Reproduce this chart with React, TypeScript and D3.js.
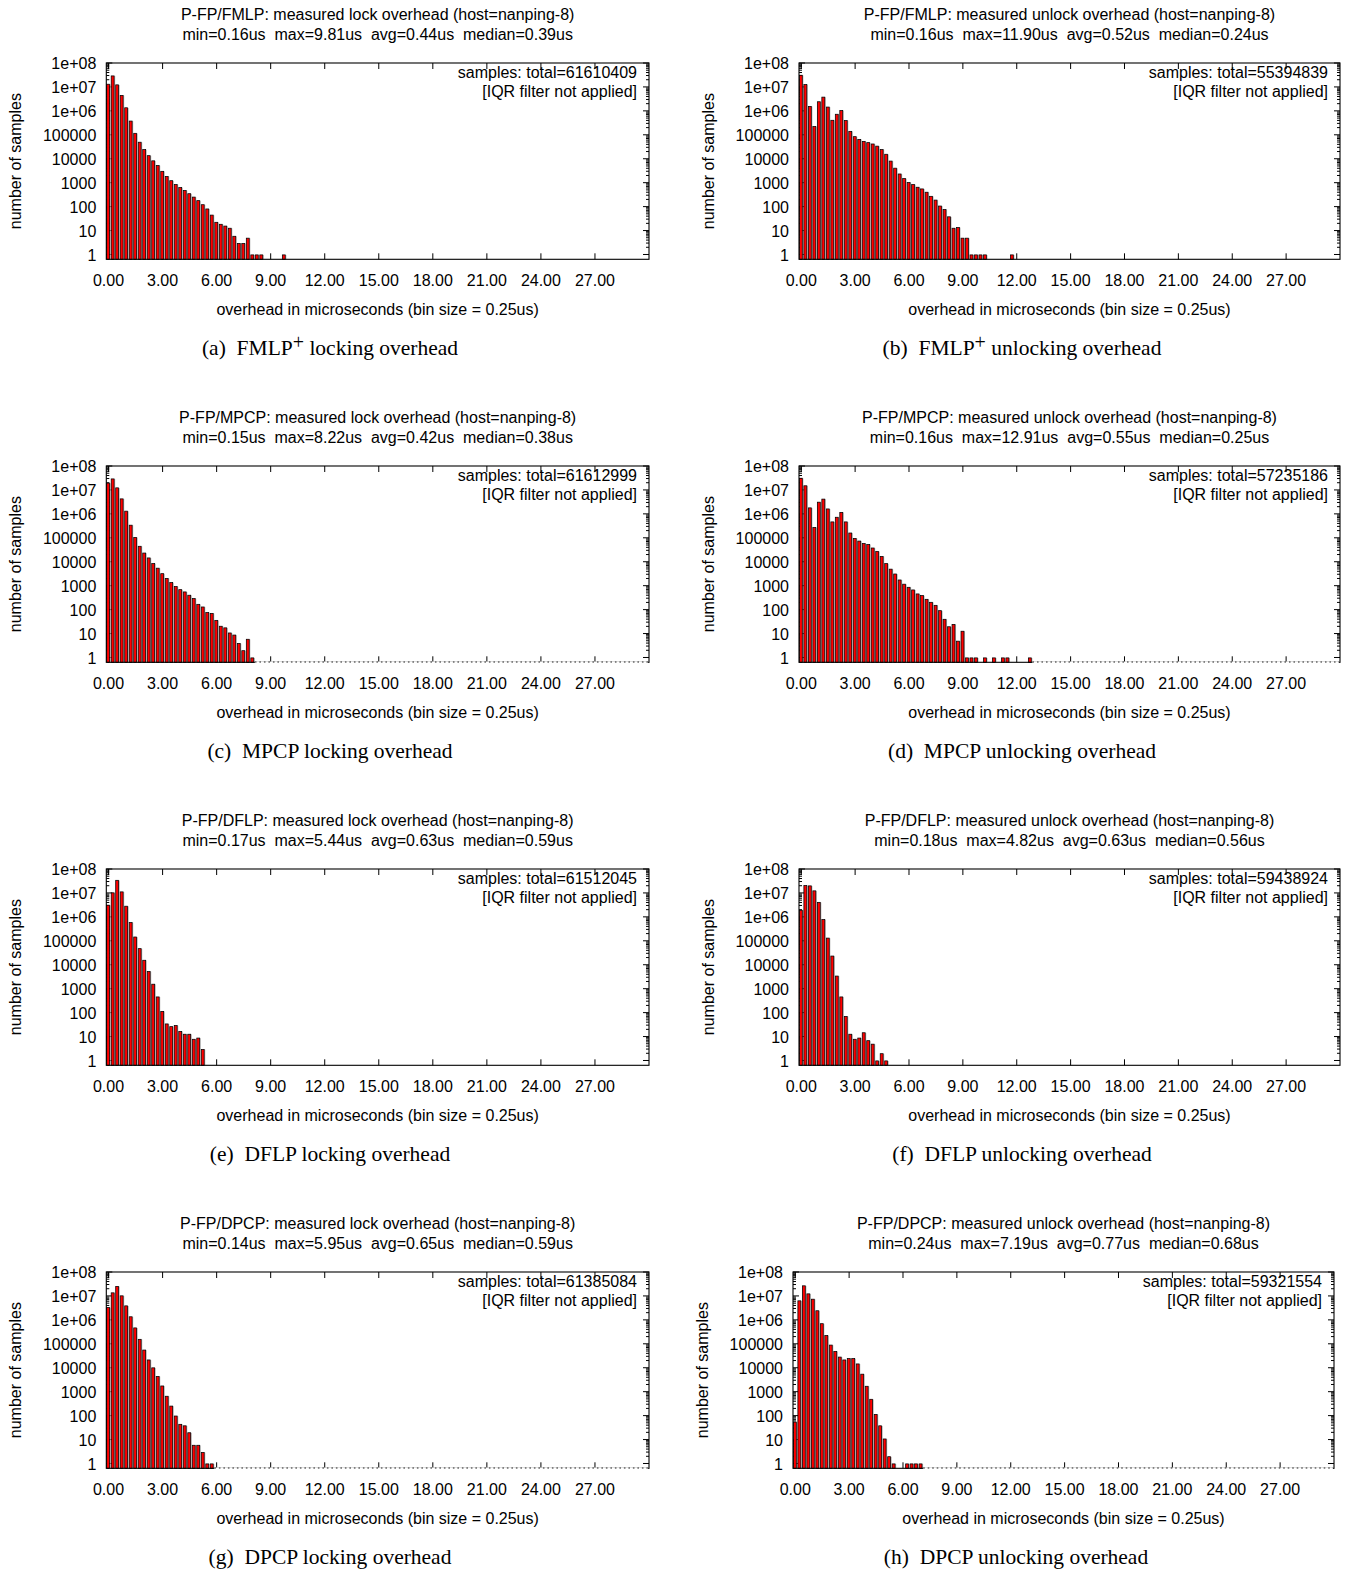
import React from "react";
import * as d3 from "d3";

// histogram bins, 0.25us each, counts
const binSize = 0.25;
const xTicks = [0, 3, 6, 9, 12, 15, 18, 21, 24, 27];
const yTicks = [1e8, 1e7, 1e6, 1e5, 1e4, 1e3, 100, 10, 1];
const yTickLabels = ["1e+08", "1e+07", "1e+06", "100000", "10000", "1000", "100", "10", "1"];

const titles = [
  "P-FP/FMLP: measured lock overhead (host=nanping-8)",
  "P-FP/FMLP: measured unlock overhead (host=nanping-8)",
  "P-FP/MPCP: measured lock overhead (host=nanping-8)",
  "P-FP/MPCP: measured unlock overhead (host=nanping-8)",
  "P-FP/DFLP: measured lock overhead (host=nanping-8)",
  "P-FP/DFLP: measured unlock overhead (host=nanping-8)",
  "P-FP/DPCP: measured lock overhead (host=nanping-8)",
  "P-FP/DPCP: measured unlock overhead (host=nanping-8)",
];
const stats = [
  "min=0.16us  max=9.81us  avg=0.44us  median=0.39us",
  "min=0.16us  max=11.90us  avg=0.52us  median=0.24us",
  "min=0.15us  max=8.22us  avg=0.42us  median=0.38us",
  "min=0.16us  max=12.91us  avg=0.55us  median=0.25us",
  "min=0.17us  max=5.44us  avg=0.63us  median=0.59us",
  "min=0.18us  max=4.82us  avg=0.63us  median=0.56us",
  "min=0.14us  max=5.95us  avg=0.65us  median=0.59us",
  "min=0.24us  max=7.19us  avg=0.77us  median=0.68us",
];
const totals = [61610409, 55394839, 61612999, 57235186, 61512045, 59438924, 61385084, 59321554];
const captions = [
  "(a)|FMLP+ locking overhead",
  "(b)|FMLP+ unlocking overhead",
  "(c)|MPCP locking overhead",
  "(d)|MPCP unlocking overhead",
  "(e)|DFLP locking overhead",
  "(f)|DFLP unlocking overhead",
  "(g)|DPCP locking overhead",
  "(h)|DPCP unlocking overhead",
];
// panels whose empty bins show as a dotted baseline
const dottedTail = [false, false, true, true, false, false, true, true];

const binsA = [1.35e7, 3.0e7, 1.27e7, 4.6e6, 1.4e6, 3.9e5, 1.2e5, 5.1e4, 2.5e4, 1.4e4, 8500, 5400, 3100, 1900, 1260, 870, 650, 490, 360, 260, 185, 125, 83, 46, 23, 19, 16, 13, 6, 3, 3, 5, 1, 1, 1, 0, 0, 0, 0, 1];
const binsB = [3.2e7, 1.3e7, 1.6e6, 2.3e5, 2.5e6, 3.9e6, 1.5e6, 4.2e5, 7.5e5, 1.07e6, 4.1e5, 1.45e5, 8.7e4, 6.7e4, 5.5e4, 4.9e4, 4.3e4, 3.5e4, 2.5e4, 1.6e4, 8300, 4200, 2400, 1550, 1050, 870, 670, 570, 415, 280, 195, 110, 78, 39, 13, 14, 5, 5, 1, 1, 1, 1, 0, 0, 0, 0, 0, 1];
const binsC = [2.0e7, 3.0e7, 1.27e7, 4.4e6, 1.35e6, 3.5e5, 1.08e5, 4.6e4, 2.4e4, 1.5e4, 8700, 5600, 3300, 2100, 1400, 950, 710, 570, 415, 300, 173, 134, 78, 72, 37, 21, 18, 11, 9, 4, 2, 6, 1];
const binsD = [3.2e7, 1.55e7, 1.85e6, 2.8e5, 3.2e6, 4.3e6, 1.67e6, 4.8e5, 7.5e5, 1.2e6, 4.8e5, 1.65e5, 9.8e4, 7.6e4, 6.0e4, 5.5e4, 3.9e4, 2.8e4, 1.73e4, 8700, 5100, 3200, 1800, 1200, 890, 690, 470, 400, 280, 210, 157, 94, 41, 20, 25, 5, 13, 1, 1, 1, 0, 1, 0, 1, 0, 1, 1, 0, 0, 0, 0, 1];
const binsE = [3.2e6, 1.05e7, 3.5e7, 1.15e7, 2.9e6, 6.0e5, 1.5e5, 4.9e4, 1.6e4, 5400, 1600, 470, 117, 35, 27, 30, 17, 13, 13, 8, 9, 3];
const binsF = [1.96e6, 2.1e7, 2.05e7, 1.27e7, 4.2e6, 8.0e5, 1.35e5, 2.4e4, 3500, 470, 72, 13, 8, 9, 15, 7, 5, 1, 2, 1];
const binsG = [3.4e6, 1.4e7, 2.6e7, 1.05e7, 4.0e6, 1.4e6, 4.8e5, 1.6e5, 5.7e4, 2.2e4, 1.03e4, 4500, 1800, 670, 260, 100, 45, 39, 20, 6, 6, 3, 1, 1];
const binsH = [56, 6.5e6, 2.75e7, 1.27e7, 7.6e6, 2.5e6, 7.2e5, 2.3e5, 9.2e4, 5.0e4, 2.9e4, 2.2e4, 2.5e4, 2.5e4, 1.5e4, 5600, 1750, 500, 117, 39, 11, 2, 1, 0, 0, 1, 1, 1, 1];

const allBins = [binsA, binsB, binsC, binsD, binsE, binsF, binsG, binsH];

const sans = "'Liberation Sans', Arial, Helvetica, sans-serif";
const serif = "'Liberation Serif', 'Times New Roman', serif";
const fontSize = 16;

const Caption = ({ text, x, y }) => {
  const [tag, rest] = text.split("|");
  const plus = rest.indexOf("+");
  return (
    <text x={x} y={y} textAnchor="middle" fontFamily={serif} fontSize={21.5} fill="#000">
      {tag + "\u00a0 "}
      {plus >= 0 ? (
        <>
          {rest.slice(0, plus)}
          <tspan dy={-6} fontSize={20}>+</tspan>
          <tspan dy={6}>{rest.slice(plus + 1)}</tspan>
        </>
      ) : (
        rest
      )}
    </text>
  );
};

const Panel = ({ i, left, right, top, capX }) => {
  const bins = allBins[i];
  const bottom = top + 196.3;
  const xScale = d3.scaleLinear().domain([-binSize / 2, 30]).range([left, right]);
  const yScale = d3.scaleLog().domain([0.63, 1e8]).range([bottom, top]);
  const cx = (left + right) / 2;

  const minor = [];
  for (let d = 0; d < 8; d++) for (let m = 2; m <= 9; m++) minor.push(m * Math.pow(10, d));

  const tailStart = xScale(bins.length * binSize - binSize / 2);

  return (
    <g>
      <text x={cx} y={top - 43.5} textAnchor="middle" fontFamily={sans} fontSize={fontSize}>{titles[i]}</text>
      <text x={cx} y={top - 23.5} textAnchor="middle" fontFamily={sans} fontSize={fontSize} style={{ whiteSpace: "pre" }}>{stats[i]}</text>

      {/* ticks */}
      <g stroke="#000" strokeWidth={1}>
        {xTicks.map((t) => (
          <g key={"x" + t}>
            <line x1={xScale(t)} x2={xScale(t)} y1={bottom} y2={bottom - 6} />
            <line x1={xScale(t)} x2={xScale(t)} y1={top} y2={top + 6} />
          </g>
        ))}
        {yTicks.map((t) => (
          <g key={"y" + t}>
            <line x1={left} x2={left + 6} y1={yScale(t)} y2={yScale(t)} />
            <line x1={right} x2={right - 6} y1={yScale(t)} y2={yScale(t)} />
          </g>
        ))}
        {minor.map((t) => (
          <g key={"m" + t}>
            <line x1={left} x2={left + 3} y1={yScale(t)} y2={yScale(t)} />
            <line x1={right} x2={right - 3} y1={yScale(t)} y2={yScale(t)} />
          </g>
        ))}
      </g>

      {/* bars */}
      {bins.map((v, k) => {
        if (!v) return null;
        const x0 = xScale(k * binSize - binSize / 2);
        const y0 = yScale(v);
        return (
          <g key={k}>
            <rect x={x0 + 3.4} y={y0 + 0.5} width={1} height={bottom - y0 - 0.5} fill="#b4b4b4" />
            <rect x={x0 + 0.4} y={y0 + 0.4} width={2.9} height={bottom - y0 - 0.4} fill="#ff0000" stroke="#000" strokeWidth={0.75} />
          </g>
        );
      })}

      <rect x={left} y={top} width={right - left} height={bottom - top} fill="none" stroke="#000" strokeWidth={1.1} />
      {dottedTail[i] && (
        <g>
          <line x1={tailStart} x2={right - 1} y1={bottom} y2={bottom} stroke="#fff" strokeWidth={1.6} />
          <line x1={tailStart} x2={right - 1} y1={bottom - 0.3} y2={bottom - 0.3} stroke="#222" strokeWidth={1.2} strokeDasharray="1.6 2.9" />
        </g>
      )}

      {/* y labels */}
      {yTicks.map((t, k) => (
        <text key={"yl" + t} x={left - 10} y={yScale(t)} dy="0.38em" textAnchor="end" fontFamily={sans} fontSize={fontSize}>{yTickLabels[k]}</text>
      ))}
      {xTicks.map((t) => (
        <text key={"xl" + t} x={xScale(t)} y={bottom + 26.5} textAnchor="middle" fontFamily={sans} fontSize={fontSize}>{d3.format(".2f")(t)}</text>
      ))}
      <text x={cx} y={bottom + 55.5} textAnchor="middle" fontFamily={sans} fontSize={fontSize}>overhead in microseconds (bin size = 0.25us)</text>
      <text transform={`translate(${left - 85},${(top + bottom) / 2}) rotate(-90)`} textAnchor="middle" fontFamily={sans} fontSize={fontSize}>number of samples</text>

      <text x={right - 12} y={top + 15} textAnchor="end" fontFamily={sans} fontSize={fontSize}>{`samples: total=${totals[i]}`}</text>
      <text x={right - 12} y={top + 34} textAnchor="end" fontFamily={sans} fontSize={fontSize}>[IQR filter not applied]</text>

      <Caption text={captions[i]} x={capX} y={bottom + 95.5} />
    </g>
  );
};

export default function App() {
  const width = 1350;
  const height = 1570;
  const rowStep = 403;
  const cols = [
    { left: 106.3, right: 649, capX: 330 },
    { left: 799, right: 1340, capX: 1022 },
  ];

  return (
    <svg width={width} height={height} style={{ position: "absolute", left: 0, top: 0, background: "#fff" }}>
      <rect width={width} height={height} fill="#fff" />
      {allBins.map((_, i) => {
        const col = cols[i % 2];
        const row = Math.floor(i / 2);
        const shift = i === 7 ? -6 : 0;
        return (
          <Panel
            key={i}
            i={i}
            left={col.left + shift}
            right={col.right + shift}
            top={63 + rowStep * row}
            capX={col.capX + shift}
          />
        );
      })}
    </svg>
  );
}
